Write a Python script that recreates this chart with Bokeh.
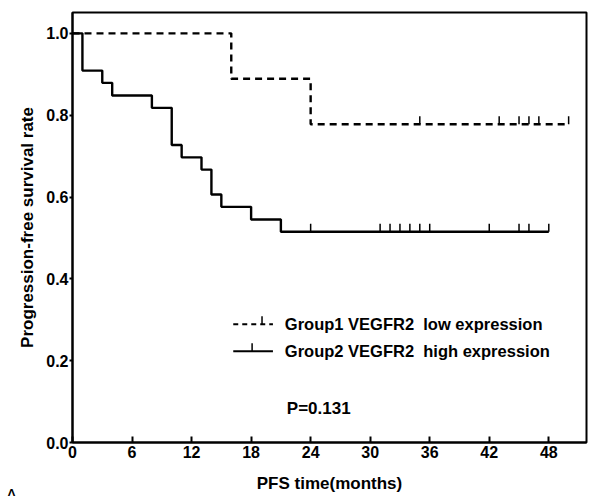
import math
from bokeh.plotting import figure
from bokeh.models import Range1d, FixedTicker, PrintfTickFormatter, Title
from bokeh.core.properties import value
from bokeh.embed import file_html
from bokeh.resources import INLINE

# ---- data ----
# Group1 (VEGFR2 low expression): step curve
g1_times = [0, 16, 24, 50]
g1_surv = [1.0, 0.889, 0.778, 0.778]
g1_cens_times = [35, 43, 45, 46, 47, 50]
g1_cens_surv = [0.778, 0.778, 0.778, 0.778, 0.778, 0.778]

# Group2 (VEGFR2 high expression): step curve
g2_times = [0, 1, 3, 4, 8, 10, 11, 13, 14, 15, 18, 21, 48]
g2_surv = [1.0, 0.909, 0.879, 0.848, 0.818, 0.727, 0.697, 0.667, 0.606, 0.576, 0.545, 0.515, 0.515]
g2_cens_times = [24, 31, 32, 33, 34, 35, 36, 42, 45, 46, 48]
g2_cens_surv = [0.515] * 11

x_ticks = [0, 6, 12, 18, 24, 30, 36, 42, 48]
y_ticks = [0.0, 0.2, 0.4, 0.6, 0.8, 1.0]

legend_labels = ["Group1 VEGFR2\u00a0 low expression", "Group2 VEGFR2\u00a0 high expression"]
p_value_text = "P=0.131"
panel_letter = "A"
x_title = "PFS time(months)"
y_title = "Progression-free survival rate"

FONT = "Liberation Sans"

p = figure(width=589, height=496,
           x_range=Range1d(0, 51.8), y_range=Range1d(0, 1.051),
           output_backend="svg", toolbar_location=None,
           min_border_left=72, min_border_right=3,
           min_border_top=12, min_border_bottom=54)
p.xgrid.visible = False
p.ygrid.visible = False
p.outline_line_color = "black"
p.outline_line_width = 2
p.background_fill_color = "white"
p.border_fill_color = "white"

xa = p.xaxis[0]
xa.ticker = FixedTicker(ticks=x_ticks)
xa.major_tick_in = 6
xa.major_tick_out = 0
xa.minor_tick_line_color = None
xa.axis_line_width = 2
xa.major_tick_line_width = 2
xa.major_label_standoff = 3
xa.major_label_text_font = FONT
xa.major_label_text_font_style = "bold"
xa.major_label_text_font_size = "16px"
xa.major_label_text_color = "black"
xa.axis_label = x_title
xa.axis_label_text_font = FONT
xa.axis_label_text_font_style = "bold"
xa.axis_label_text_font_size = "17px"
xa.axis_label_text_color = "black"
xa.axis_label_standoff = 13

ya = p.yaxis[0]
ya.ticker = FixedTicker(ticks=y_ticks)
ya.formatter = PrintfTickFormatter(format="%.1f")
ya.major_tick_in = 0
ya.major_tick_out = 3
ya.minor_tick_line_color = None
ya.axis_line_width = 2
ya.major_tick_line_width = 2
ya.major_label_standoff = 1
ya.major_label_text_font = FONT
ya.major_label_text_font_style = "bold"
ya.major_label_text_font_size = "16px"
ya.major_label_text_color = "black"
ya.axis_label = y_title
ya.axis_label_text_font = FONT
ya.axis_label_text_font_style = "bold"
ya.axis_label_text_font_size = "17px"
ya.axis_label_text_color = "black"
ya.axis_label_standoff = 6

# curves
p.step(g1_times, g1_surv, mode="after", line_color="black", line_width=2.4, line_dash="7 5")
p.step(g2_times, g2_surv, mode="after", line_color="black", line_width=2.4)

# censor marks
p.ray(x=g1_cens_times, y=g1_cens_surv, length=8, length_units="screen",
      angle=math.pi / 2, line_color="black", line_width=1.5)
p.ray(x=g2_cens_times, y=g2_cens_surv, length=8, length_units="screen",
      angle=math.pi / 2, line_color="black", line_width=1.5)

# legend (manual, positions in data units of the frame)
leg_x0, leg_x1 = 16.2, 20.2
leg_y = [0.289, 0.223]
p.segment(x0=[leg_x0], y0=[leg_y[0]], x1=[leg_x1], y1=[leg_y[0]],
          line_color="black", line_width=2, line_dash="5 4")
p.segment(x0=[leg_x0], y0=[leg_y[1]], x1=[leg_x1], y1=[leg_y[1]],
          line_color="black", line_width=2)
p.ray(x=[19.1, 18.1], y=leg_y, length=8, length_units="screen",
      angle=math.pi / 2, line_color="black", line_width=1.5)
p.text(x=[21.4, 21.4], y=leg_y, text=legend_labels,
       text_font=value(FONT), text_font_style="bold", text_font_size="16.5px",
       text_baseline="middle", text_align="left", text_color="black")

p.text(x=[21.6], y=[0.084], text=[p_value_text],
       text_font=value(FONT), text_font_style="bold", text_font_size="17px",
       text_baseline="middle", text_align="left", text_color="black")

# panel letter as a negative-height title below the x axis, centred vertically
p.add_layout(Title(text=panel_letter, align="left", offset=-67, vertical_align="middle",
                   standoff=-48, text_font=FONT, text_font_style="normal",
                   text_font_size="18px", text_color="black"), "below")

open("out.html", "w").write(file_html(p, INLINE))
